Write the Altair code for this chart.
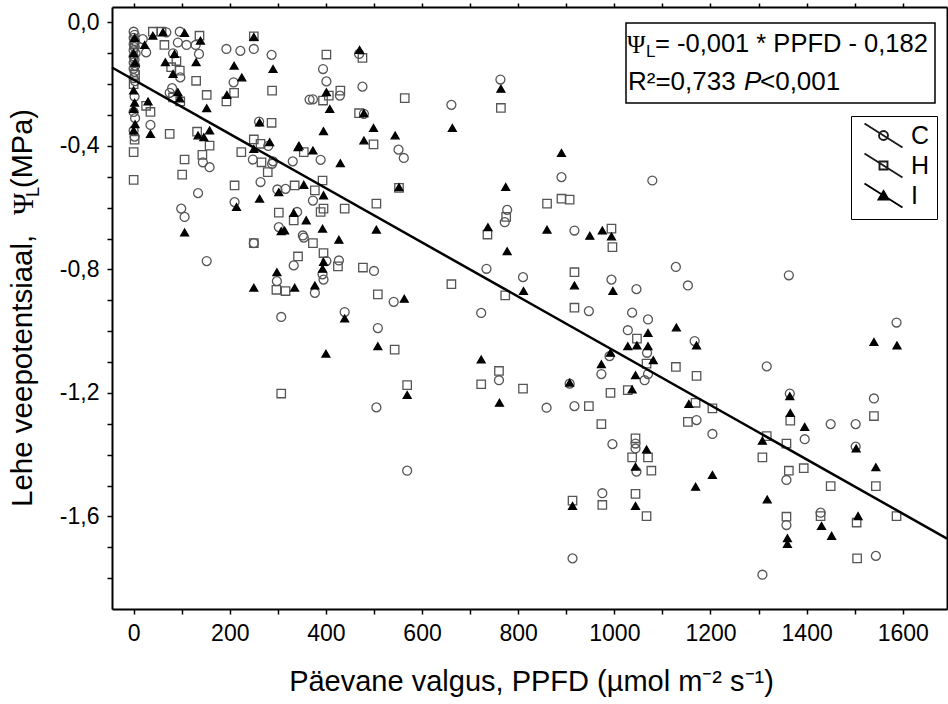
import altair as alt
import pandas as pd

# ---- data ----
c_x = [0, 2, 0, 3, 0, 2, 0, 4, 0, 2, 0, 3, 0, 2, 0, 3, 2, 0, 3, 0, 2,
       68, 96, 129, 92, 19, 26, 110, 82, 97, 136, 193, 222, 250, 287, 208, 80, 75, 35, 144,
       261, 280, 248, 290, 331, 366, 134, 99, 106, 158, 210, 264, 288, 299, 302, 340, 352, 373,
       152, 250, 354, 333, 298, 377, 307, 389, 316, 401, 427, 393, 395, 500, 541, 439, 508,
       469, 394, 401, 373, 429, 476, 479, 551, 562, 661, 763, 890, 777, 772, 917, 1079, 505,
       734, 810, 723, 760, 859, 917, 996, 907, 990, 973, 994, 947, 1128, 1153, 1363, 1046,
       1037, 1070, 1028, 1068, 1167, 1070, 1063, 1171, 1204, 1317, 1365, 1396, 1450, 1502,
       1540, 1587, 1502, 1044, 1044, 1046, 975, 1358, 1358, 1429, 1544, 1308, 569, 913]
c_y = [-0.03, -0.04, -0.05, -0.06, -0.07, -0.08, -0.09, -0.10, -0.11, -0.12, -0.13, -0.14, -0.15,
       -0.16, -0.18, -0.19, -0.24, -0.29, -0.31, -0.35, -0.37,
       -0.032, -0.03, -0.073, -0.065, -0.054, -0.097, -0.073, -0.10, -0.178, -0.102, -0.086,
       -0.092, -0.086, -0.105, -0.194, -0.213, -0.228, -0.332, -0.453,
       -0.321, -0.40, -0.444, -0.45, -0.45, -0.25, -0.553, -0.603, -0.63, -0.469, -0.582, -0.517,
       -0.458, -0.541, -0.663, -0.614, -0.69, -0.577,
       -0.773, -0.715, -0.697, -0.787, -0.838, -0.876, -0.954, -0.445, -0.539, -0.773, -0.771,
       -0.816, -0.833, -0.805, -0.905, -0.938, -0.99,
       -0.102, -0.151, -0.191, -0.249, -0.237, -0.208, -0.296, -0.412, -0.439, -0.267, -0.185,
       -0.501, -0.607, -0.647, -0.674, -0.512, -1.247,
       -0.798, -0.825, -0.941, -1.159, -1.248, -1.243, -1.366, -1.17, -1.081, -1.139, -0.833,
       -0.935, -0.792, -0.852, -0.819, -0.864,
       -0.94, -0.962, -0.997, -1.07, -1.032, -1.139, -1.159, -1.288, -1.333, -1.114, -1.202,
       -1.35, -1.301, -1.301,
       -1.218, -0.972, -1.374, -1.364, -1.38, -1.455, -1.525, -1.482, -1.628, -1.588, -1.728,
       -1.789, -1.452, -1.736]

h_x = [2, 3, 0, 2, 0, 0,
       40, 58, 137, 64, 89, 78, 96, 130, 250, 209, 193, 152, 288, 82, 97, 26, 35, 75, 132, 158,
       143, 106, 287, 250, 264, 224, 266, 354, 101, 210, 279, 335, 377, 302, 333, 250, 373, 342,
       297, 316, 307, 393, 389, 395, 439, 505, 552, 395, 425, 477, 508, 661, 401, 476, 406, 394,
       430, 564, 469, 499, 764, 860, 890, 907, 775, 736, 994, 543, 569, 773, 996, 917, 917, 760,
       723, 810, 947, 973, 992, 1047, 1067, 1128, 1171, 1028, 1169, 1153, 1204, 1366, 1540, 1317,
       1358, 1044, 1037, 1070, 1308, 1077, 1044, 1067, 975, 1363, 1394, 1450, 1544, 1587, 1358,
       1429, 1504, 1505, 913]
h_y = [-0.07, -0.17, -0.20, -0.38, -0.42, -0.51,
       -0.030, -0.03, -0.043, -0.073, -0.125, -0.145, -0.156, -0.189, -0.045, -0.228, -0.256,
       -0.235, -0.221, -0.243, -0.256, -0.27, -0.29, -0.361, -0.354, -0.399,
       -0.429, -0.444, -0.325, -0.379, -0.393, -0.42, -0.453, -0.42, -0.493, -0.528, -0.485,
       -0.528, -0.544, -0.616, -0.641, -0.715, -0.715, -0.758,
       -0.866, -0.87, -1.202, -0.512, -0.614, -0.603, -0.603, -0.587, -0.536, -0.747, -0.79,
       -0.794, -0.881, -0.848, -0.104, -0.115, -0.237, -0.253,
       -0.221, -0.245, -0.294, -0.395, -0.277, -0.587, -0.571, -0.574, -0.63, -0.687, -0.668,
       -1.06, -1.175, -0.884, -0.728, -0.809, -0.924, -1.129,
       -1.172, -1.186, -1.243, -1.301, -1.2, -1.024, -1.105, -1.116, -1.145, -1.191, -1.232,
       -1.294, -1.25, -1.29, -1.275, -1.34,
       -1.364, -1.347, -1.409, -1.409, -1.409, -1.452, -1.527, -1.599, -1.563, -1.452, -1.444,
       -1.502, -1.502, -1.599, -1.601,
       -1.599, -1.62, -1.736, -1.549]

i_x = [2, 0, 3, 0, 2, 0, 3, 0,
       40, 61, 106, 139, 23, 85, 66, 82, 130, 250, 290, 209, 225, 194, 152, 92, 96, 30, 35, 134,
       146, 158, 262, 250, 283, 344, 106, 214, 262, 342, 373, 302, 354, 333, 314, 359, 298, 250,
       335, 377, 430, 395, 307, 393, 427, 505, 552, 395, 393, 563, 439, 470, 401, 408, 395, 499,
       479, 544, 479, 663, 764, 890, 774, 737, 860, 949, 975, 994, 508, 400, 569, 777, 811, 917,
       997, 723, 761, 907, 992, 973, 1070, 1129, 1028, 1047, 1070, 1081, 1171, 1044, 1037, 1155,
       1365, 1366, 1396, 1540, 1588, 1308, 1503, 1067, 1044, 1044, 1169, 1204, 1318, 1544, 1360,
       1360, 1431, 1452, 1507, 913]
i_y = [-0.05, -0.10, -0.13, -0.22, -0.26, -0.28, -0.33, -0.35,
       -0.043, -0.032, -0.034, -0.059, -0.073, -0.102, -0.129, -0.167, -0.129, -0.047, -0.151,
       -0.14, -0.178, -0.235, -0.278, -0.226, -0.246, -0.256, -0.361, -0.366,
       -0.372, -0.35, -0.324, -0.41, -0.388, -0.399, -0.68, -0.598, -0.571, -0.404, -0.415, -0.55,
       -0.526, -0.617, -0.674, -0.641, -0.809, -0.859,
       -0.859, -0.852, -0.456, -0.56, -0.676, -0.668, -0.704, -0.671, -0.534, -0.776, -0.798,
       -0.895, -0.959, -0.089, -0.226, -0.28, -0.352, -0.342,
       -0.382, -0.366, -0.294, -0.342, -0.215, -0.423, -0.533, -0.663, -0.671, -0.691, -0.674,
       -0.693, -1.049, -1.073, -1.207, -0.741, -0.87, -0.852,
       -0.87, -1.092, -1.232, -1.167, -1.07, -1.107, -1.006, -0.988, -1.049, -1.046, -1.049,
       -1.094, -1.046, -1.143, -1.189, -1.236,
       -1.211, -1.265, -1.31, -1.035, -1.046, -1.355, -1.38, -1.383, -1.439, -1.566, -1.504,
       -1.466, -1.545, -1.441, -1.671,
       -1.689, -1.631, -1.663, -1.599, -1.566]

line_x = [-45, 1692]
line_y = [-0.146, -1.672]

series_names = ["C", "H", "I"]
x_ticks = [0, 100, 200, 300, 400, 500, 600, 700, 800, 900, 1000, 1100, 1200, 1300, 1400, 1500, 1600]
y_ticks = [0.0, -0.1, -0.2, -0.3, -0.4, -0.5, -0.6, -0.7, -0.8, -0.9, -1.0, -1.1, -1.2, -1.3,
           -1.4, -1.5, -1.6, -1.7, -1.8]

x_title = "Päevane valgus, PPFD (µmol m⁻² s⁻¹)"
eq_line1 = "= -0,001 * PPFD - 0,182"
eq_r2 = "R²=0,733"
eq_p = "<0,001"

# ---- build tables ----
df = pd.DataFrame({
    "x": c_x + h_x + i_x,
    "y": c_y + h_y + i_y,
    "s": ["C"] * len(c_x) + ["H"] * len(h_x) + ["I"] * len(i_x),
})
line_df = pd.DataFrame({"x": line_x, "y": line_y})

SANS = "Liberation Sans"
SERIF = "Liberation Serif"

xscale = alt.Scale(domain=[-45, 1692], nice=False, zero=False)
yscale = alt.Scale(domain=[-1.9, 0.05], nice=False, zero=False)

axis_common = dict(
    tickColor="black", tickWidth=1.5, domainColor="black", domainWidth=2,
    grid=False, labelFont=SANS, labelColor="black", labelOverlap=False,
)

points = alt.Chart(df).mark_point(opacity=1, strokeWidth=1.3).encode(
    x=alt.X("x:Q", scale=xscale, axis=alt.Axis(
        values=x_ticks, format="d",
        labelExpr="datum.value % 200 === 0 ? datum.label : ''",
        tickSize=5, labelFontSize=23, labelPadding=8, labelFlush=False,
        title=x_title, titleFont=SANS, titleFontSize=29, titleFontWeight="normal",
        titleColor="black", titleBaseline="alphabetic", titleY=81, titleX=419,
        **axis_common)),
    y=alt.Y("y:Q", scale=yscale, axis=alt.Axis(
        values=y_ticks, format=".1f",
        labelExpr="abs(round(datum.value * 10)) % 4 === 0 ? datum.label : ''",
        tickSize=5, labelFontSize=23, labelPadding=8, labelFlush=False,
        title=None, **axis_common)),
    shape=alt.Shape("s:N", scale=alt.Scale(domain=series_names,
                                           range=["circle", "square", "triangle-up"]),
                    legend=None),
    fill=alt.Fill("s:N", scale=alt.Scale(domain=series_names,
                                         range=["transparent", "transparent", "black"]),
                  legend=None),
    stroke=alt.Stroke("s:N", scale=alt.Scale(domain=series_names,
                                             range=["#555555", "#555555", "black"]),
                      legend=None),
    size=alt.Size("s:N", scale=alt.Scale(domain=series_names, range=[80, 62, 80]),
                  legend=None),
)

# legend-only layer: symbols are a slanted line with the series marker
p_circle = "M-1.9,-1.2L1.9,1.2M0.45,0A0.45,0.45,0,1,1,-0.45,0A0.45,0.45,0,1,1,0.45,0Z"
p_square = "M-1.9,-1.2L1.9,1.2M-0.4,-0.4L0.4,-0.4L0.4,0.4L-0.4,0.4Z"
p_tri = "M-1.9,-1.2L1.9,1.2M0,-0.45L0.5,0.4L-0.5,0.4Z"

leg = alt.Legend(
    orient="none", legendX=739, legendY=109, title=None,
    labelFont=SANS, labelFontSize=25, labelColor="black",
    symbolSize=400, symbolStrokeWidth=1.9, symbolOpacity=1,
    padding=7, rowPadding=-3, symbolOffset=13, labelOffset=15,
    strokeColor="black", fillColor="white",
)
legend_layer = alt.Chart(df).transform_filter("false").mark_point(opacity=1).encode(
    shape=alt.Shape("s:N", scale=alt.Scale(domain=series_names,
                                           range=[p_circle, p_square, p_tri]), legend=leg),
    fill=alt.Fill("s:N", scale=alt.Scale(domain=series_names,
                                         range=["transparent", "transparent", "black"]),
                  legend=leg),
    stroke=alt.Stroke("s:N", scale=alt.Scale(domain=series_names,
                                             range=["#1a1a1a", "#1a1a1a", "black"]),
                      legend=leg),
)

reg_line = alt.Chart(line_df).mark_line(color="black", strokeWidth=2.5).encode(
    x=alt.X("x:Q", scale=xscale, axis=alt.Axis(
        orient="top", values=x_ticks, labels=False, tickSize=4, title=None, **axis_common)),
    y=alt.Y("y:Q", scale=yscale, axis=alt.Axis(
        orient="right", values=y_ticks, labels=False, tickSize=4, title=None, **axis_common)),
)


def txt(s, x, y, size, font=SANS, angle=0, align="left", italic=False):
    return alt.Chart(alt.Data(values=[{}])).mark_text(
        text=s, align=align, baseline="alphabetic", font=font, fontSize=size,
        angle=angle, fontStyle="italic" if italic else "normal", color="black",
    ).encode(x=alt.value(x), y=alt.value(y))


box = alt.Chart(alt.Data(values=[{}])).mark_rect(
    fill="white", stroke="black", strokeWidth=1.5
).encode(x=alt.value(514), x2=alt.value(823), y=alt.value(16), y2=alt.value(96))

annotations = [
    box,
    txt("Ψ", 515, 46, 25, font=SERIF),
    txt("L", 534, 50, 17),
    txt(eq_line1, 543, 45, 25.5),
    txt(eq_r2, 516, 83, 26),
    txt("P", 632, 83, 26, italic=True),
    txt(eq_p, 648, 83, 26),
    # y axis title pieces (rotated)
    txt("Lehe veepotentsiaal,", -80, 500, 29.5, angle=270),
    txt("Ψ", -79, 208, 30, font=SERIF, angle=270),
    txt("L", -73, 190, 18, angle=270),
    txt("(MPa)", -80, 181, 29, angle=270),
]

chart = alt.layer(points, legend_layer, reg_line, *annotations).resolve_axis(
    x="independent", y="independent"
).resolve_scale(
    shape="independent", fill="independent", stroke="independent"
).properties(
    width=835, height=602,
    autosize=alt.AutoSizeParams(type="none"),
    padding={"left": 112, "top": 7, "right": 1, "bottom": 95},
).configure_view(stroke=None).configure(
    locale={"number": {"decimal": ",", "thousands": ".", "grouping": [3],
                       "currency": ["", ""], "minus": "-"}}
)

chart.save("out.html", embed_options={"renderer": "svg", "actions": False})
